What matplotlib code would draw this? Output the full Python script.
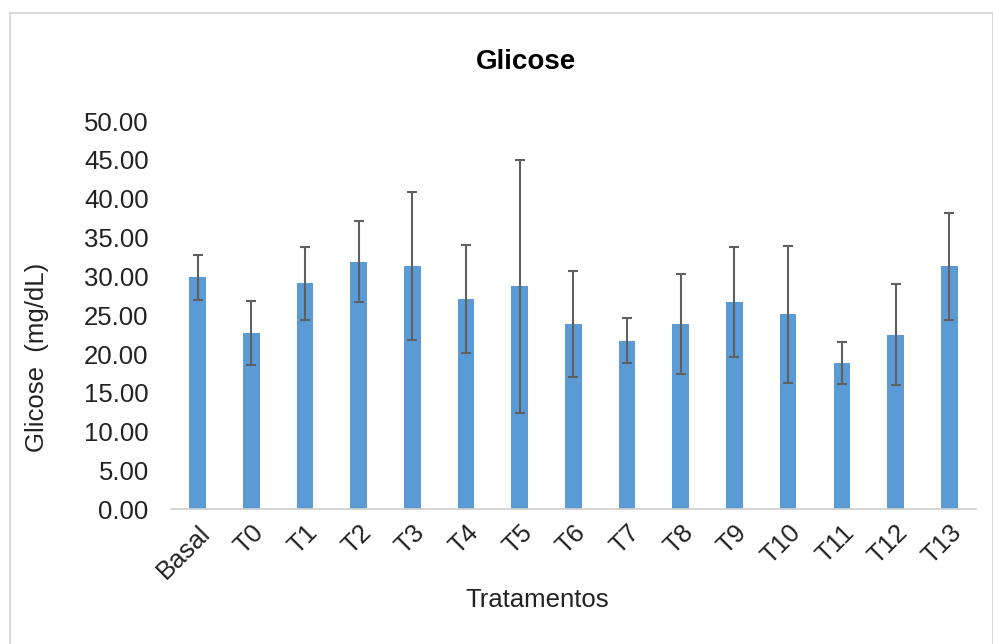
import matplotlib.pyplot as plt
from matplotlib.patches import Rectangle

plt.rcParams['font.family'] = ['Liberation Sans', 'DejaVu Sans']

labels = ["Basal", "T0", "T1", "T2", "T3", "T4", "T5", "T6", "T7", "T8", "T9", "T10", "T11", "T12", "T13"]
means = [29.9, 22.7, 29.1, 31.9, 31.3, 27.1, 28.7, 23.9, 21.7, 23.9, 26.7, 25.1, 18.9, 22.5, 31.3]
errs = [2.9, 4.1, 4.7, 5.2, 9.5, 6.9, 16.3, 6.8, 2.9, 6.4, 7.1, 8.8, 2.7, 6.5, 6.9]

fig = plt.figure(figsize=(9.93, 6.44), dpi=100)
ax = fig.add_axes([0.1721, 0.2089, 0.8108, 0.6032])

x = range(len(labels))
ax.bar(x, means, width=0.31, color="#5B9BD5",
       yerr=errs, capsize=3.5,
       error_kw=dict(ecolor="#606060", elinewidth=1.5, capthick=1.5))

ax.set_xlim(-0.5, len(labels) - 0.5)
ax.set_ylim(0, 50)
ax.set_yticks(range(0, 51, 5))
ax.set_yticklabels([f"{v:.2f}" for v in range(0, 51, 5)], fontsize=18.5, color="#222222")
ax.set_xticks(list(x))
ax.set_xticklabels(labels, rotation=45, ha="right", rotation_mode="anchor",
                   fontsize=18.5, color="#222222")
ax.tick_params(axis="y", length=0, pad=16)
ax.tick_params(axis="x", length=0, pad=8)

for s in ["top", "right", "left"]:
    ax.spines[s].set_visible(False)
ax.spines["bottom"].set_color("#d0d0d0")
ax.spines["bottom"].set_linewidth(1.2)

fig.text(37 / 993, 1 - 357 / 644, "Glicose  (mg/dL)", fontsize=18.5, color="#222222",
         rotation=90, ha="center", va="center")
fig.text(537 / 993, 1 - 600 / 644, "Tratamentos", fontsize=18.5, color="#222222",
         ha="center", va="center")
fig.text(526 / 993, 1 - 62 / 644, "Glicose", fontsize=20, fontweight="bold",
         ha="center", va="center")

fig.patches.append(Rectangle((10 / 993, -0.01), 0.99, 1 - 13 / 644 + 0.01,
                             transform=fig.transFigure, fill=False,
                             edgecolor="#d9d9d9", linewidth=1.5))

fig.savefig("out.png", dpi=100)
